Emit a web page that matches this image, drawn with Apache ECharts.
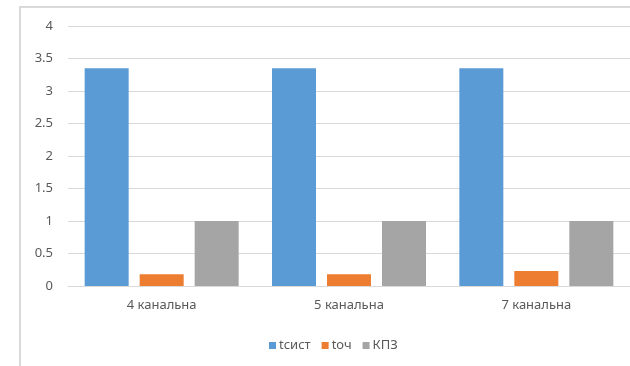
<!DOCTYPE html>
<html><head><meta charset="utf-8">
<script src="https://cdn.jsdelivr.net/npm/echarts@6/dist/echarts.min.js"></script>
<style>html,body{margin:0;padding:0;background:#fff}#c{width:630px;height:366px}</style>
</head><body><div id="c"></div>
<script>
const categories = ['4 канальна', '5 канальна', '7 канальна'];
const seriesNames = ['tсист', 'tоч', 'КПЗ'];
const tsyst = [3.35, 3.35, 3.35];
const toch = [0.18, 0.18, 0.23];
const kpz = [1, 1, 1];
const colors = ['#5B9BD5', '#ED7D31', '#A5A5A5'];

const chart = echarts.init(document.getElementById('c'), null, {renderer: 'canvas'});
const font = 'Noto Sans';
const txt = {color: '#595959', fontFamily: font, fontSize: 13};
chart.setOption({
  animation: false,
  graphic: [{
    type: 'rect', shape: {x: 20, y: 7, width: 640, height: 400},
    style: {fill: 'none', stroke: '#d9d9d9', lineWidth: 2}, silent: true, z: -1
  }],
  legend: {
    left: 264, top: 334, itemWidth: 7, itemHeight: 7, itemGap: 11,
    icon: 'rect', textStyle: Object.assign({}, txt, {padding: [0, 0, 0, -2]}),
    data: seriesNames
  },
  grid: {left: 68, right: 0, top: 26, bottom: 80, containLabel: false},
  xAxis: {
    type: 'category', data: categories,
    axisLine: {lineStyle: {color: '#d9d9d9'}}, axisTick: {show: false},
    axisLabel: Object.assign({}, txt, {margin: 13})
  },
  yAxis: {
    type: 'value', min: 0, max: 4, interval: 0.5,
    axisLine: {show: false}, axisTick: {show: false},
    splitLine: {lineStyle: {color: '#d9d9d9'}},
    axisLabel: Object.assign({}, txt, {margin: 15})
  },
  series: [
    {name: seriesNames[0], type: 'bar', data: tsyst, itemStyle: {color: colors[0]}, barWidth: 44, barGap: '25%'},
    {name: seriesNames[1], type: 'bar', data: toch, itemStyle: {color: colors[1]}, barWidth: 44, barGap: '25%'},
    {name: seriesNames[2], type: 'bar', data: kpz, itemStyle: {color: colors[2]}, barWidth: 44, barGap: '25%'}
  ]
});
</script></body></html>
